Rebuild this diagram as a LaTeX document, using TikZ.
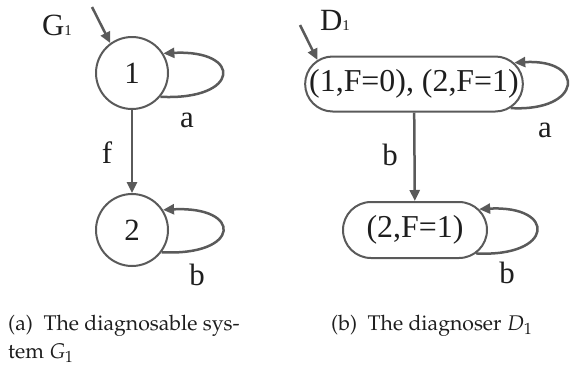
\documentclass[tikz,border=0pt]{standalone}
\usepackage[T1]{fontenc}
\usepackage{mathpazo}
\usepackage{fontspec}
\newfontfamily\diag{Liberation Serif}
\usetikzlibrary{arrows.meta,shapes.misc}
\definecolor{lc}{HTML}{5A5A5A}
\definecolor{tc}{HTML}{1E1E1E}
\newcommand{\capfont}{\fontencoding{T1}\fontfamily{ppl}\fontsize{21.3}{28}\selectfont}
\begin{document}
\begin{tikzpicture}[x=1bp,y=-1bp,
  st/.style={circle, draw=lc, line width=2bp, minimum size=72bp, inner sep=0pt, text=tc, font=\diag\fontsize{31}{31}\selectfont},
  rr/.style={rounded rectangle, draw=lc, line width=2bp, inner sep=0pt, text=tc, font=\diag\fontsize{32}{32}\selectfont},
  tr/.style={draw=lc, line width=2.5bp, -{Triangle[length=11bp,width=10bp]}},
  lb/.style={text=tc, inner sep=0pt, font=\diag\fontsize{31}{31}\selectfont},
  captext/.style={anchor=north west, inner sep=0pt, align=left, text=tc, font=\capfont}]
\useasboundingbox (0,0) rectangle (570,374);
\node[st] (n1) at (132,73) {1};
\node[st] (n2) at (132,230) {2};
\node[rr, minimum width=215bp, minimum height=55bp] (d1) at (414,84) {(1,F=0), (2,F=1)};
\node[rr, minimum width=144bp, minimum height=56bp] (d2) at (415,230) {(2,F=1)};
\coordinate (g1s) at (92,7);
\coordinate (d1s) at (300,25);
\draw[tr] (g1s) -- (n1.126);
\draw[tr] (d1s) -- (d1.166);
\draw[tr] (n1.-40) .. controls +(80,4) and +(80,-4) .. (n1.32);
\draw[tr] (n2.-37) .. controls +(80,4) and +(80,-4) .. (n2.33);
\draw[tr] (d1.-14) .. controls +(72,4) and +(72,-4) .. (d1.12);
\draw[tr] (d2.-21) .. controls +(78,4) and +(78,-4) .. (d2.18);
\draw[tr] (n1) -- (n2);
\draw[tr] (d1) -- (d2);
\node[lb] (lg) at (57,25) {G{\fontsize{15}{15}\selectfont 1}};
\node[lb] (la) at (187,120) {a};
\node[lb] (lf) at (107,153) {f};
\node[lb] (lb2) at (197,275) {b};
\node[lb] (ld) at (335,20) {D{\fontsize{15}{15}\selectfont 1}};
\node[lb] (la2) at (545,130) {a};
\node[lb] (lb3) at (390,155) {b};
\node[lb] (lb4) at (507,273) {b};
\node[captext] (ca) at (8,315) {(a)\enspace The diagnosable sys-\\tem $G_1$};
\node[captext] (cb) at (331,315) {(b)\enspace The diagnoser $D_1$};
\end{tikzpicture}
\end{document}
